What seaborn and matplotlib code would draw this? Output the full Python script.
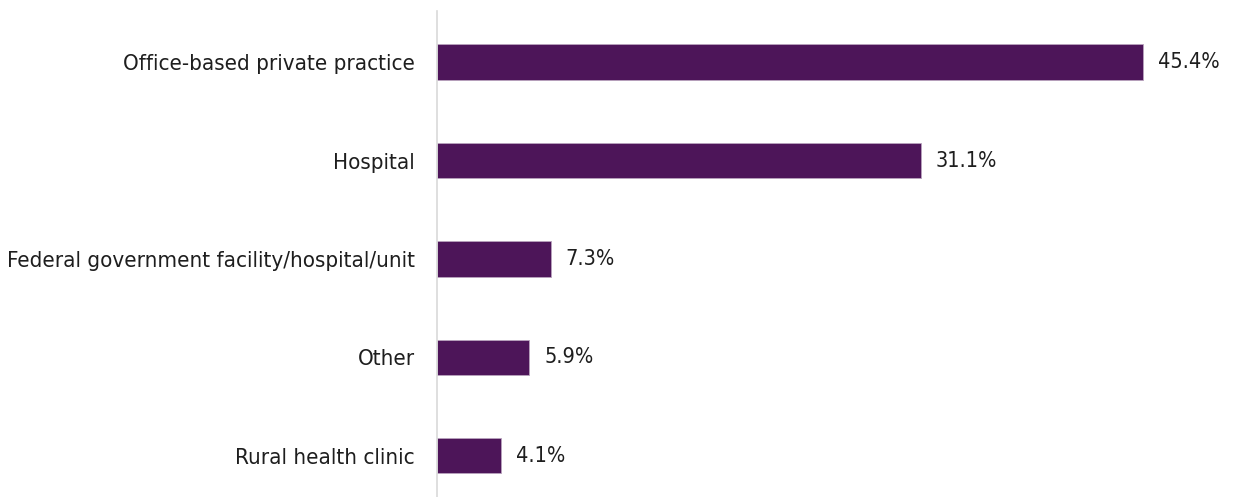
import matplotlib
matplotlib.use("Agg")
import matplotlib.pyplot as plt
import seaborn as sns
import pandas as pd

categories = [
    "Office-based private practice",
    "Hospital",
    "Federal government facility/hospital/unit",
    "Other",
    "Rural health clinic",
]
shares = [45.4, 31.1, 7.3, 5.9, 4.1]
value_labels = ["45.4%", "31.1%", "7.3%", "5.9%", "4.1%"]

sns.set_theme(style="white")
plt.rcParams["font.family"] = ["DejaVu Sans"]
plt.rcParams["font.stretch"] = "condensed"

df = pd.DataFrame({"setting": categories, "share": shares})

fig = plt.figure(figsize=(12.37, 4.97), dpi=100)
ax = fig.add_axes([437 / 1237, 0.0, 1 - 437 / 1237, 1 - 11 / 497])

bar_color = "#4D1559"
sns.barplot(data=df, x="share", y="setting", orient="h", color=bar_color,
            saturation=1, width=0.36, ax=ax, edgecolor="#B9A3BE", linewidth=0.6)

ax.set_xlim(0, 800 / (706 / 45.4))
ax.set_ylim(4.42, -0.52)

for patch, txt in zip(ax.patches, value_labels):
    ax.annotate(txt, (patch.get_width(), patch.get_y() + patch.get_height() / 2),
                xytext=(11, 0), textcoords="offset points", va="center", ha="left",
                fontsize=15.5, fontstretch="condensed", color="#1E1E1E")

ax.set_xlabel("")
ax.set_ylabel("")
ax.set_xticks([])
ax.tick_params(axis="y", length=0, pad=16, labelsize=16, labelcolor="#1E1E1E")
for lbl in ax.get_yticklabels():
    lbl.set_fontstretch("condensed")
for side in ["top", "right", "bottom"]:
    ax.spines[side].set_visible(False)
ax.spines["left"].set_color("#D9D9D9")
ax.spines["left"].set_linewidth(1.2)

fig.savefig("out.png", dpi=100)
